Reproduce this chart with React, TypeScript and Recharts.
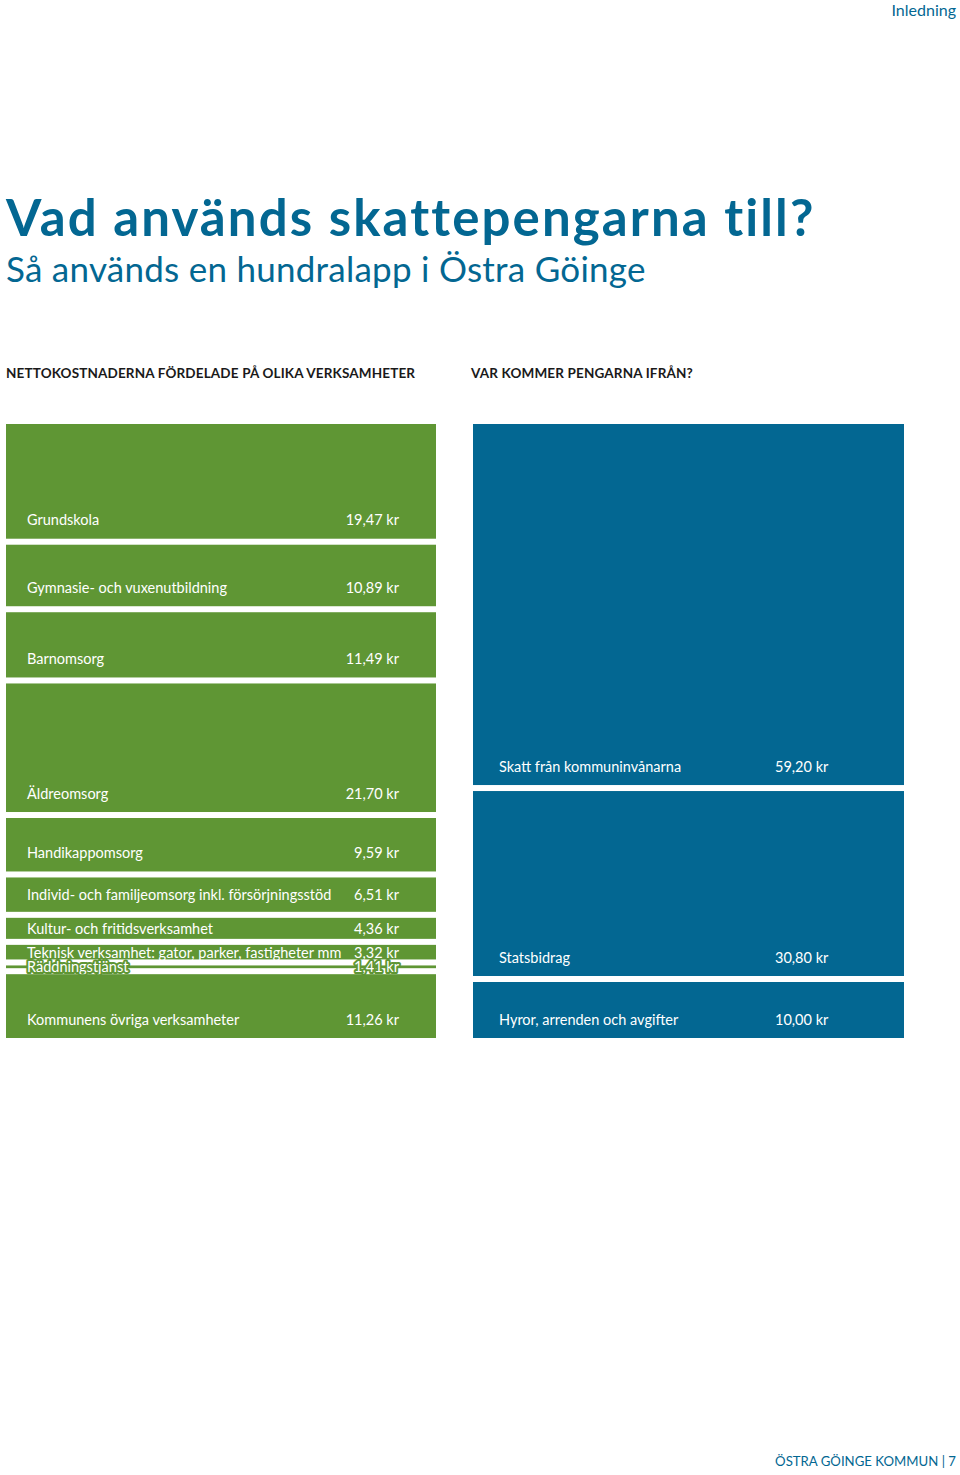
import { Bar, BarChart, XAxis, YAxis } from "recharts";

const costLabels = [
  "Grundskola",
  "Gymnasie- och vuxenutbildning",
  "Barnomsorg",
  "Äldreomsorg",
  "Handikappomsorg",
  "Individ- och familjeomsorg inkl. försörjningsstöd",
  "Kultur- och fritidsverksamhet",
  "Teknisk verksamhet: gator, parker, fastigheter mm",
  "Räddningstjänst",
  "Kommunens övriga verksamheter",
];
const costValues = [19.47, 10.89, 11.49, 21.7, 9.59, 6.51, 4.36, 3.32, 1.41, 11.26];

const incomeLabels = ["Skatt från kommuninvånarna", "Statsbidrag", "Hyror, arrenden och avgifter"];
const incomeValues = [59.2, 30.8, 10.0];

const GREEN = "#5f9634";
const BLUE = "#036792";
const FONT = "Lato, 'Noto Sans', sans-serif";
const GAP = 6;

const formatKr = (v: number) => v.toFixed(2).replace(".", ",") + " kr";

// one slice of a stacked column, inset a little so the slices get white gaps
const Segment = (props: any) => {
  const { x, y, width, height, fill, label, value, labelX, valueX, valueAnchor } = props;
  const top = Math.min(y, y + height) + GAP / 2;
  const h = Math.max(Math.abs(height) - GAP, 1);
  const bottom = top + h;
  const textY = Math.max(bottom - 19, top + h / 2);
  // very thin slices can't hold the text, give it an outline so it still reads
  const halo =
    h < 10 ? { stroke: fill, strokeWidth: 4, strokeLinejoin: "round" as const, paintOrder: "stroke" } : {};
  const textProps = {
    y: textY,
    dominantBaseline: "central" as const,
    fill: "#fff",
    fontSize: 14.5,
    fontFamily: FONT,
    ...halo,
  };
  return (
    <g>
      <rect x={x} y={top} width={width} height={h} fill={fill} />
      <text x={x + labelX} {...textProps}>
        {label}
      </text>
      <text x={x + valueX} textAnchor={valueAnchor} {...textProps}>
        {formatKr(value)}
      </text>
    </g>
  );
};

interface StackColumnProps {
  labels: string[];
  values: number[];
  fill: string;
  width: number;
  labelX: number;
  valueX: number;
  valueAnchor: "start" | "end";
}

const StackColumn = ({ labels, values, fill, width, labelX, valueX, valueAnchor }: StackColumnProps) => {
  const row: Record<string, number | string> = { name: "total" };
  values.forEach((v, i) => {
    row[`s${i}`] = v;
  });
  return (
    <BarChart
      width={width}
      height={620}
      data={[row]}
      margin={{ top: 0, right: 0, bottom: 0, left: 0 }}
      barCategoryGap={0}
    >
      <XAxis dataKey="name" hide />
      <YAxis type="number" domain={[0, 100]} reversed hide allowDataOverflow />
      {values.map((v, i) => (
        <Bar
          key={labels[i]}
          dataKey={`s${i}`}
          stackId="col"
          fill={fill}
          isAnimationActive={false}
          shape={(p: any) => (
            <Segment
              {...p}
              label={labels[i]}
              value={v}
              labelX={labelX}
              valueX={valueX}
              valueAnchor={valueAnchor}
            />
          )}
        />
      ))}
    </BarChart>
  );
};

const abs = (left: number, top: number): React.CSSProperties => ({
  position: "absolute",
  left,
  top,
  lineHeight: 1,
  whiteSpace: "nowrap",
  fontFamily: FONT,
});

const App = () => {
  return (
    <div style={{ position: "absolute", left: 0, top: 0, width: 960, height: 1475, background: "#fff" }}>
      <div style={{ ...abs(0, 2), left: undefined, right: 4, fontSize: 16, color: BLUE }}>Inledning</div>
      <div style={{ ...abs(6, 191), fontSize: 51, fontWeight: 700, color: BLUE, letterSpacing: 2.1 }}>
        Vad används skattepengarna till?
      </div>
      <div style={{ ...abs(6, 251), fontSize: 35, color: BLUE, letterSpacing: 0.25 }}>
        Så används en hundralapp i Östra Göinge
      </div>
      <div style={{ ...abs(6, 366.5), fontSize: 13.5, fontWeight: 700, color: "#1a1a1a", letterSpacing: 0.15 }}>
        NETTOKOSTNADERNA FÖRDELADE PÅ OLIKA VERKSAMHETER
      </div>
      <div style={{ ...abs(471, 366.5), fontSize: 13.5, fontWeight: 700, color: "#1a1a1a", letterSpacing: 0.15 }}>
        VAR KOMMER PENGARNA IFRÅN?
      </div>
      <div style={{ position: "absolute", left: 6, top: 421 }}>
        <StackColumn
          labels={costLabels}
          values={costValues}
          fill={GREEN}
          width={430}
          labelX={21}
          valueX={393}
          valueAnchor="end"
        />
      </div>
      <div style={{ position: "absolute", left: 473, top: 421 }}>
        <StackColumn
          labels={incomeLabels}
          values={incomeValues}
          fill={BLUE}
          width={431}
          labelX={26}
          valueX={302}
          valueAnchor="start"
        />
      </div>
      <div style={{ ...abs(0, 1455), left: undefined, right: 4, fontSize: 13.2, color: BLUE }}>
        ÖSTRA GÖINGE KOMMUN | 7
      </div>
    </div>
  );
};

export default App;
